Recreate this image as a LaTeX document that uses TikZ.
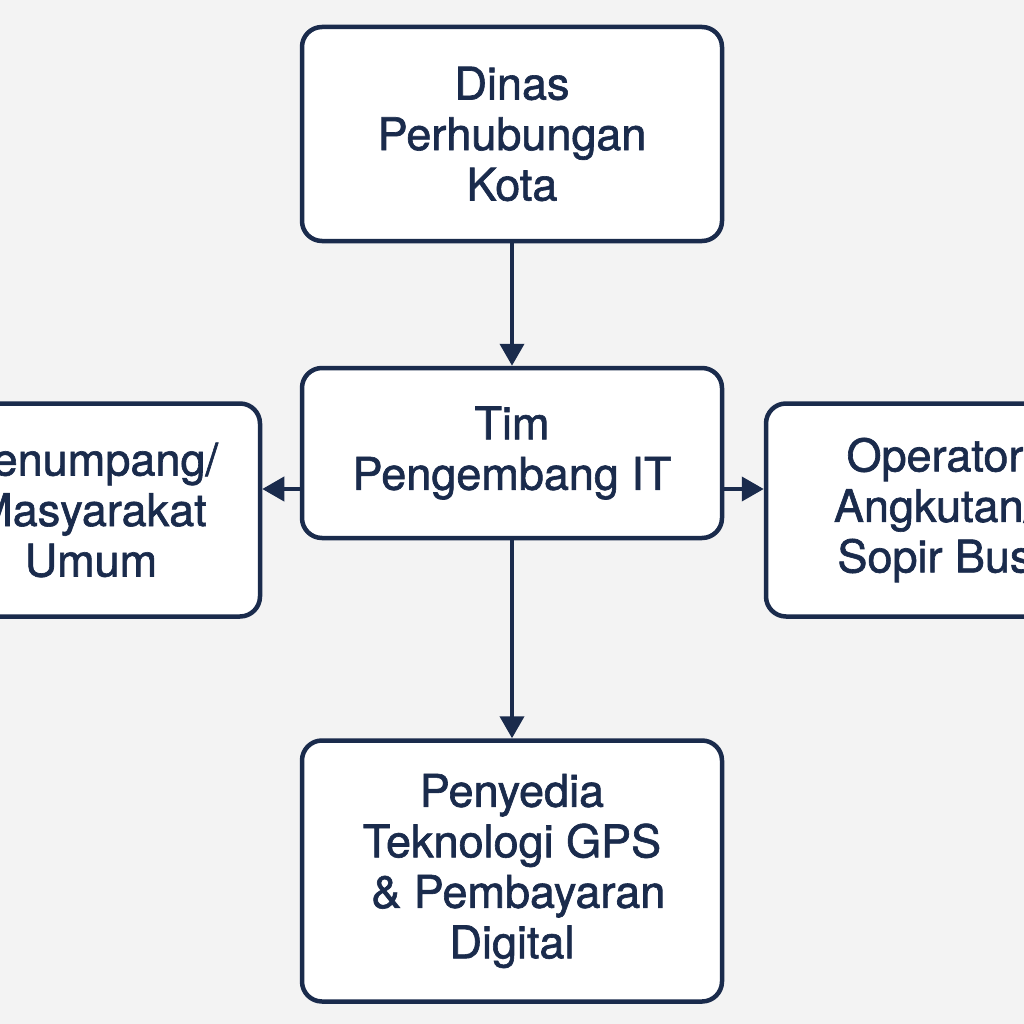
\documentclass[tikz,border=0pt]{standalone}
\usepackage{fontspec}
\setmainfont[FakeBold=1.4]{TeX Gyre Heros}
\usetikzlibrary{arrows.meta}
\definecolor{navy}{HTML}{1A2B4C}
\definecolor{bg}{HTML}{F3F3F3}
\tikzset{
  box/.style={draw=navy, line width=4.5pt, fill=white, rounded corners=20pt,
    inner sep=0pt, align=center, text=navy,
    font=\fontsize{45}{50.5}\selectfont},
  conn/.style={draw=navy, line width=4pt, -{Triangle[length=22pt,width=24pt]}}
}
\begin{document}
\begin{tikzpicture}[x=1pt,y=-1pt]
\useasboundingbox (0,0) rectangle (1024,1024);
\clip (0,0) rectangle (1024,1024);
\fill[bg] (0,0) rectangle (1024,1024);
\node[box, minimum width=420pt, minimum height=214pt] (top) at (512,134) {Dinas\\Perhubungan\\Kota};
\node[box, minimum width=420pt, minimum height=170pt] (mid) at (512,453) {Tim\\Pengembang IT};
\node[box, minimum width=338pt, minimum height=213pt] (left) at (91,510) {Penumpang/\\Masyarakat\\Umum};
\node[box, minimum width=338pt, minimum height=213pt] (right) at (935,510) {Operator\\Angkutan/\\Sopir Bus};
\node[box, minimum width=420pt, minimum height=261pt] (bot) at (512,871) {Penyedia\\Teknologi GPS\\\ \& Pembayaran\\Digital};
\coordinate (ly) at (0,489);
\draw[conn] (top.south) -- (mid.north);
\draw[conn] (mid.south) -- (bot.north);
\draw[conn] (mid.west |- ly) -- (left.east |- ly);
\draw[conn] (mid.east |- ly) -- (right.west |- ly);
\end{tikzpicture}
\end{document}
